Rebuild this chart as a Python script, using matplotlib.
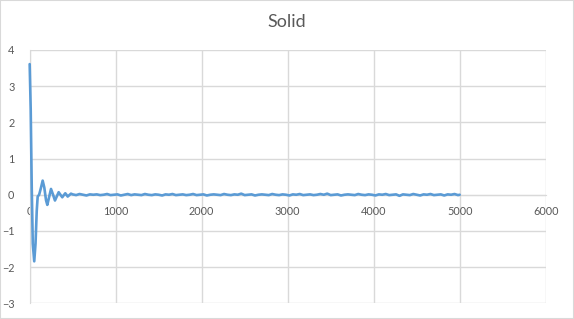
import matplotlib
matplotlib.use("Agg")
import matplotlib.pyplot as plt

# data (damped response, then small ripple)
x_vals = [0, 12, 24, 36, 53, 68, 82, 93, 110, 130, 151, 170, 190, 205, 228, 248,
          272, 294, 316, 337, 358, 379, 397, 414, 428, 442, 461, 480, 500,
          540, 580, 620, 660, 700, 740, 780, 820, 860, 900, 940, 980,
          1020, 1060, 1100, 1140, 1180, 1220, 1260, 1300, 1340, 1380, 1420, 1460,
          1500, 1540, 1580, 1620, 1660, 1700, 1740, 1780, 1820, 1860, 1900, 1940,
          1980, 2020, 2060, 2100, 2140, 2180, 2220, 2260, 2300, 2340, 2380, 2420,
          2460, 2500, 2540, 2580, 2620, 2660, 2700, 2740, 2780, 2820, 2860, 2900,
          2940, 2980, 3020, 3060, 3100, 3140, 3180, 3220, 3260, 3300, 3340, 3380,
          3420, 3460, 3500, 3540, 3580, 3620, 3660, 3700, 3740, 3780, 3820, 3860,
          3900, 3940, 3980, 4020, 4060, 4100, 4140, 4180, 4220, 4260, 4300, 4340,
          4380, 4420, 4460, 4500, 4540, 4580, 4620, 4660, 4700, 4740, 4780, 4820,
          4860, 4900, 4940, 4980, 5000]
y_vals = [3.61, 2.35, 0.2, -1.35, -1.84, -1.35, -0.45, -0.05, 0.0, 0.18, 0.39, 0.2,
          -0.15, -0.28, -0.05, 0.16, 0.0, -0.16, -0.04, 0.07, 0.0, -0.07, -0.01,
          0.04, 0.0, -0.05, -0.01, 0.03, 0.01,
          -0.01, 0.02, 0.0, -0.02, 0.01, 0.0, 0.01, -0.01, 0.0, 0.02, -0.01, 0.0,
          0.01, -0.02, 0.0, 0.02, -0.01, 0.01, 0.0, -0.01, 0.02, 0.0, -0.01, 0.01,
          0.0, -0.02, 0.01, 0.0, 0.02, -0.01, 0.0, 0.01, -0.01, 0.0, 0.02, -0.01,
          0.0, 0.01, -0.02, 0.0, 0.01, 0.0, -0.01, 0.02, 0.0, -0.01, 0.01, 0.0,
          0.03, -0.01, 0.0, 0.01, -0.02, 0.0, 0.01, 0.0, -0.01, 0.02, 0.0, -0.01,
          0.01, 0.0, -0.02, 0.01, 0.0, 0.02, -0.01, 0.0, 0.01, -0.01, 0.0, 0.02,
          0.0, 0.03, -0.01, 0.0, 0.01, -0.02, 0.0, 0.01, 0.0, -0.01, 0.02, 0.0,
          -0.01, 0.01, 0.0, -0.02, 0.01, 0.0, 0.02, -0.01, 0.0, 0.01, -0.03, 0.01,
          0.0, -0.01, 0.02, 0.0, -0.02, 0.01, 0.0, 0.02, -0.01, 0.0, 0.01, -0.02,
          0.01, 0.0, 0.02, -0.01, 0.0]

x_ticks = [0, 1000, 2000, 3000, 4000, 5000, 6000]
y_ticks = [-3, -2, -1, 0, 1, 2, 3, 4]

grid_col = "#D9D9D9"
text_col = "#595959"
plt.rcParams['font.family'] = ['Lato', 'DejaVu Sans']

fig = plt.figure(figsize=(5.74, 3.19), dpi=100)
fig.patches.append(plt.Rectangle((0, 0), 1, 1, transform=fig.transFigure,
                                 fill=False, edgecolor=grid_col, lw=1.5))
ax = fig.add_axes([0.0517, 0.0492, 0.899, 0.7941])

ax.plot(x_vals, y_vals, color="#5B9BD5", lw=1.9, solid_joinstyle="round",
        solid_capstyle="round", zorder=3, clip_on=False)

ax.set_xlim(0, 6000)
ax.set_ylim(-3, 4)
ax.set_xticks(x_ticks)
ax.set_yticks(y_ticks)
ax.grid(True, color=grid_col, lw=1.0)
ax.set_axisbelow(True)

for s in ["top", "right"]:
    ax.spines[s].set_visible(False)
ax.spines["left"].set_color(grid_col)
ax.spines["bottom"].set_position(("data", 0))
ax.spines["bottom"].set_color(grid_col)

ax.tick_params(axis="both", length=0, labelsize=7.8, colors=text_col)
ax.tick_params(axis="y", pad=11)
ax.tick_params(axis="x", pad=8)

fig.text(0.5, 0.931, "Solid", ha="center", va="center", fontsize=13, color=text_col)

fig.savefig("out.png", dpi=100)
